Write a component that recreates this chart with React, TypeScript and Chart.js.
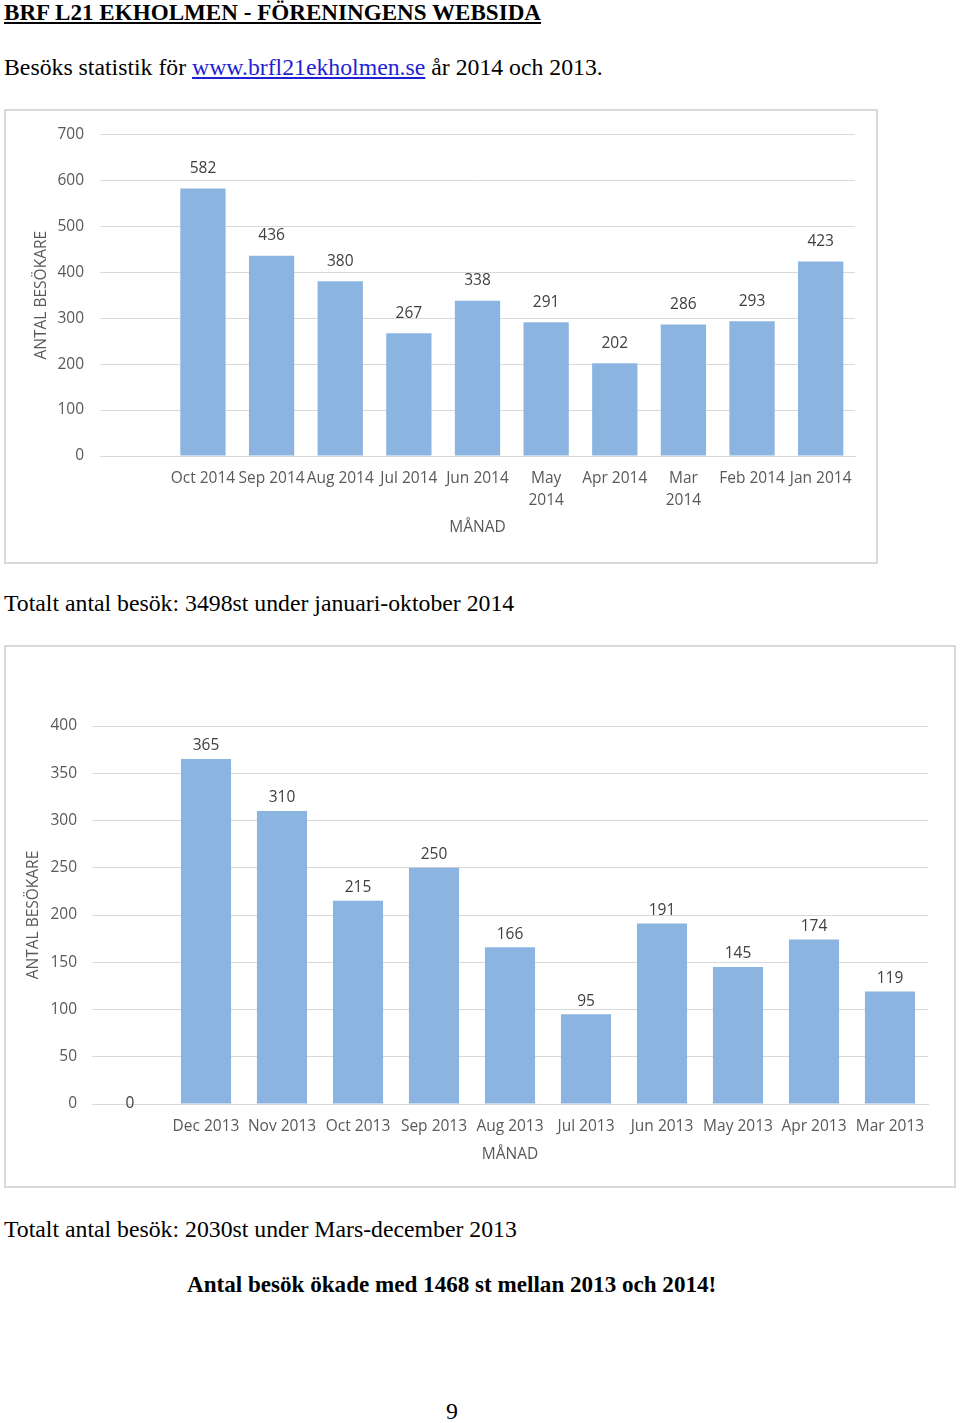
import React, { useEffect, useRef } from "react";
import { Chart, registerables } from "chart.js";

Chart.register(...registerables);

// ---------- Data ----------
const months2014: (string | string[])[] = [
  "",
  "Oct 2014",
  "Sep 2014",
  "Aug 2014",
  "Jul 2014",
  "Jun 2014",
  ["May", "2014"],
  "Apr 2014",
  ["Mar", "2014"],
  "Feb 2014",
  "Jan 2014",
];
const visitors2014: (number | null)[] = [null, 582, 436, 380, 267, 338, 291, 202, 286, 293, 423];

const months2013: string[] = [
  "",
  "Dec 2013",
  "Nov 2013",
  "Oct 2013",
  "Sep 2013",
  "Aug 2013",
  "Jul 2013",
  "Jun 2013",
  "May 2013",
  "Apr 2013",
  "Mar 2013",
];
const visitors2013: number[] = [0, 365, 310, 215, 250, 166, 95, 191, 145, 174, 119];

const yTitle = "ANTAL BESÖKARE";
const xTitle = "MÅNAD";

// ---------- Styling ----------
const FONT = "'Open Sans', sans-serif";
const FS = 15.5;
const BAR = "#8cb4e0";
const GRID = "#d9d9d9";
const TICK = "#595959";
const LABEL = "#404040";

function valueLabels(offset: number) {
  return {
    id: "valueLabels",
    afterDatasetsDraw(chart: any) {
      const ctx = chart.ctx;
      const meta = chart.getDatasetMeta(0);
      const data = chart.data.datasets[0].data;
      ctx.save();
      ctx.font = `${FS}px ${FONT}`;
      ctx.fillStyle = LABEL;
      ctx.textAlign = "center";
      ctx.textBaseline = "middle";
      meta.data.forEach((bar: any, i: number) => {
        const v = data[i];
        if (v === null || v === undefined) return;
        const y = v === 0 ? bar.base : bar.y - offset;
        ctx.fillText(String(v), bar.x, y);
      });
      ctx.restore();
    },
  };
}

interface ChartSpec {
  labels: any[];
  values: any[];
  max: number;
  step: number;
  yWidth: number;
  yTickPad: number;
  yTitlePad: number;
  xHeight: number;
  xTitlePad: number;
  padTop: number;
  padRight: number;
  labelOffset: number;
}

function BarChart({ spec, width, height }: { spec: ChartSpec; width: number; height: number }) {
  const ref = useRef<HTMLCanvasElement>(null);
  useEffect(() => {
    if (!ref.current) return;
    const chart = new Chart(ref.current, {
      type: "bar",
      data: {
        labels: spec.labels,
        datasets: [
          {
            data: spec.values,
            backgroundColor: BAR,
            borderWidth: 0,
            barPercentage: 0.66,
            categoryPercentage: 1,
          },
        ],
      },
      options: {
        responsive: false,
        maintainAspectRatio: false,
        animation: false,
        devicePixelRatio: 1,
        layout: { padding: { top: spec.padTop, right: spec.padRight, left: 0, bottom: 0 } },
        plugins: {
          legend: { display: false },
          tooltip: { enabled: false },
        },
        scales: {
          x: {
            grid: { display: false, drawTicks: false },
            border: { display: true, color: GRID, width: 1 },
            ticks: {
              autoSkip: false,
              maxRotation: 0,
              minRotation: 0,
              padding: 12,
              color: TICK,
              font: { family: FONT, size: FS, lineHeight: "22px" },
            },
            title: {
              display: true,
              text: xTitle,
              color: TICK,
              font: { family: FONT, size: FS, lineHeight: 1.2 },
              padding: { top: 0, bottom: spec.xTitlePad },
            },
            afterFit: (s: any) => {
              s.height = spec.xHeight;
            },
          },
          y: {
            min: 0,
            max: spec.max,
            grid: { color: GRID, lineWidth: 1, drawTicks: false },
            border: { display: false },
            ticks: {
              stepSize: spec.step,
              padding: spec.yTickPad,
              color: TICK,
              font: { family: FONT, size: FS },
            },
            title: {
              display: true,
              text: yTitle,
              color: TICK,
              font: { family: FONT, size: FS, lineHeight: 1.2 },
              padding: { top: spec.yTitlePad, bottom: 0 },
            },
            afterFit: (s: any) => {
              s.width = spec.yWidth;
            },
          },
        },
      },
      plugins: [valueLabels(spec.labelOffset)],
    } as any);
    return () => chart.destroy();
  }, []);
  return <canvas ref={ref} width={width} height={height} style={{ display: "block" }} />;
}

const serif = "'Liberation Serif', 'Times New Roman', serif";

function Text({ top, left, size, bold, children, style }: any) {
  return (
    <div
      style={{
        position: "absolute",
        top,
        left,
        fontFamily: serif,
        fontSize: size,
        lineHeight: 1,
        fontWeight: bold ? "bold" : "normal",
        color: "#000",
        whiteSpace: "nowrap",
        ...style,
      }}
    >
      {children}
    </div>
  );
}

export default function App() {
  const spec2014: ChartSpec = {
    labels: months2014,
    values: visitors2014,
    max: 700,
    step: 100,
    yWidth: 96,
    yTickPad: 16,
    yTitlePad: 28.3,
    xHeight: 108,
    xTitlePad: 27.3,
    padTop: 21,
    padRight: 23,
    labelOffset: 20,
  };
  const spec2013: ChartSpec = {
    labels: months2013,
    values: visitors2013,
    max: 400,
    step: 50,
    yWidth: 88,
    yTickPad: 15,
    yTitlePad: 20.3,
    xHeight: 84,
    xTitlePad: 24.3,
    padTop: 81,
    padRight: 28,
    labelOffset: 13,
  };
  const BODY = 23.75;
  return (
    <div style={{ position: "absolute", left: 0, top: 0, width: 960, height: 1423, background: "#fff", overflow: "hidden" }}>
      <Text top={1} left={4} size={23.1} bold style={{ textDecoration: "underline" }}>
        BRF L21 EKHOLMEN - FÖRENINGENS WEBSIDA
      </Text>
      <Text top={55.5} left={4} size={BODY}>
        Besöks statistik för{" "}
        <span style={{ color: "#1f1fd6", textDecoration: "underline" }}>www.brfl21ekholmen.se</span> år 2014 och 2013.
      </Text>

      <div style={{ position: "absolute", left: 4, top: 109, width: 874, height: 455 }}>
        <BarChart spec={spec2014} width={874} height={455} />
        <div style={{ position: "absolute", inset: 0, border: "2px solid #d9d9d9", boxSizing: "border-box", pointerEvents: "none" }} />
      </div>

      <Text top={591.5} left={4} size={BODY}>
        Totalt antal besök: 3498st under januari-oktober 2014
      </Text>

      <div style={{ position: "absolute", left: 4, top: 645, width: 952, height: 543 }}>
        <BarChart spec={spec2013} width={952} height={543} />
        <div style={{ position: "absolute", inset: 0, border: "2px solid #d9d9d9", boxSizing: "border-box", pointerEvents: "none" }} />
      </div>

      <Text top={1217.5} left={4} size={BODY}>
        Totalt antal besök: 2030st under Mars-december 2013
      </Text>
      <Text top={1273} left={187} size={23.1} bold>
        Antal besök ökade med 1468 st mellan 2013 och 2014!
      </Text>
      <Text top={1399.5} left={446} size={BODY}>
        9
      </Text>
    </div>
  );
}
